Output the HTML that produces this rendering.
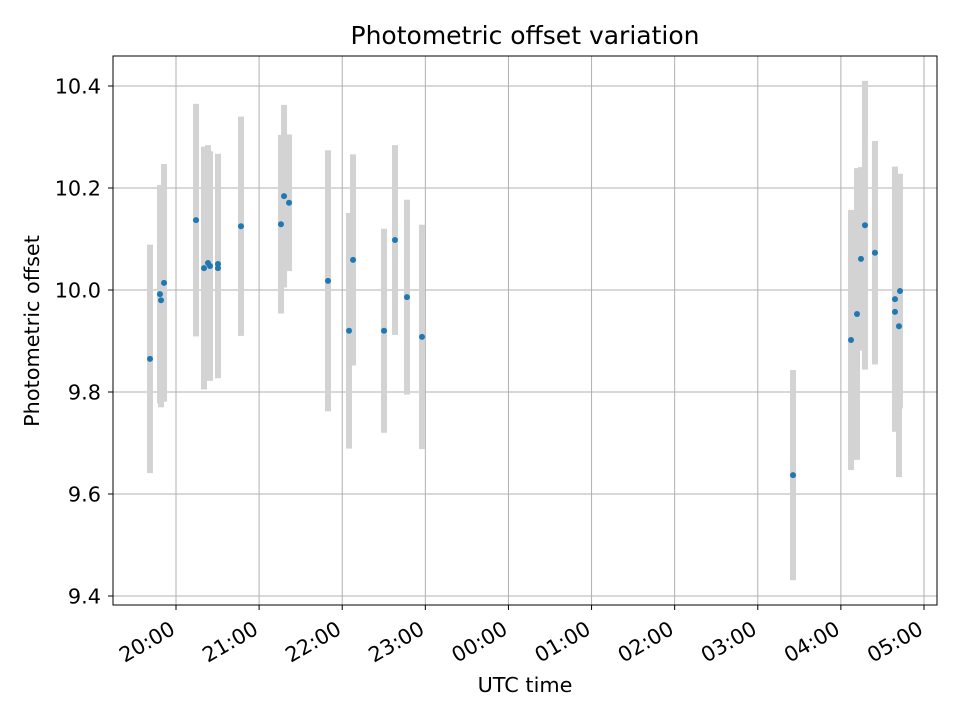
<!DOCTYPE html>
<html><head><meta charset="utf-8"><style>
body{margin:0;background:#fff;width:960px;height:720px;overflow:hidden}
svg text{font-family:"DejaVu Sans","Liberation Sans",sans-serif;fill:#000}
</style></head><body>
<svg id="chart" width="960" height="720" xmlns="http://www.w3.org/2000/svg"></svg>
<script>
// time in hours since 00:00 of first day (values >24 are next day)
const times=[19.687,19.807,19.82,19.856,20.241,20.337,20.385,20.409,20.505,20.505,20.782,21.263,21.3,21.36,21.829,22.082,22.13,22.503,22.635,22.779,22.96,27.424,28.122,28.194,28.242,28.29,28.41,28.651,28.651,28.699,28.711];
const offsets=[9.865,9.992,9.980,10.014,10.137,10.043,10.053,10.047,10.051,10.043,10.125,10.129,10.184,10.171,10.018,9.920,10.059,9.920,10.098,9.986,9.908,9.637,9.902,9.953,10.061,10.127,10.073,9.982,9.957,9.929,9.998];
const errors=[0.224,0.214,0.21,0.233,0.228,0.238,0.231,0.225,0.216,0.216,0.215,0.175,0.179,0.134,0.256,0.231,0.207,0.2,0.186,0.191,0.22,0.206,0.255,0.286,0.18,0.283,0.219,0.26,0.2,0.296,0.23];
const xTicks=[20,21,22,23,24,25,26,27,28,29];
const xTickLabels=["20:00","21:00","22:00","23:00","00:00","01:00","02:00","03:00","04:00","05:00"];
const yTicks=[9.4,9.6,9.8,10.0,10.2,10.4];
const yTickLabels=["9.4","9.6","9.8","10.0","10.2","10.4"];

const L=113,R=937,T=56,B=605;
const xs=h=>176+(h-20)*83.11;
const ys=v=>86+(10.4-v)*510;
const svg=document.getElementById('chart');
const NS='http://www.w3.org/2000/svg';
function mk(tag,attrs,parent){const e=document.createElementNS(NS,tag);for(const k in attrs)e.setAttribute(k,attrs[k]);(parent||svg).appendChild(e);return e;}

const grid=mk('g',{});


xTicks.forEach(t=>{mk('line',{x1:xs(t),x2:xs(t),y1:T,y2:B,stroke:'#b0b0b0','stroke-width':1},grid);});
yTicks.forEach(t=>{mk('line',{x1:L,x2:R,y1:ys(t),y2:ys(t),stroke:'#b0b0b0','stroke-width':1},grid);});

const ebs=mk('g',{});


times.forEach((t,i)=>{
  const r=mk('rect',{x:xs(t)-3,y:ys(offsets[i]+errors[i]),width:6,height:ys(offsets[i]-errors[i])-ys(offsets[i]+errors[i]),fill:'#d3d3d3'},ebs);
  
  
});
const pts=mk('g',{});


times.forEach((t,i)=>{
  const c=mk('circle',{cx:xs(t),cy:ys(offsets[i]),r:3,fill:'#1f77b4'},pts);
  
  
});

const frame=mk('rect',{x:L,y:T,width:R-L,height:B-T,fill:'none',stroke:'#000','stroke-width':1});



const xa=mk('g',{});


xTicks.forEach((t,i)=>{
  const x=xs(t);
  mk('line',{x1:x,x2:x,y1:B,y2:B+5,stroke:'#000'},xa);
  const ax=x-3, ay=B+22;
  const tx=mk('text',{x:ax,y:ay,'font-size':20.8,'text-anchor':'end','dominant-baseline':'central',transform:`rotate(-30 ${ax} ${ay})`},xa);
  tx.textContent=xTickLabels[i];
  
  
});
const ya=mk('g',{});


yTicks.forEach((t,i)=>{
  const y=ys(t);
  mk('line',{x1:L-5,x2:L,y1:y,y2:y,stroke:'#000'},ya);
  const tx=mk('text',{x:L-12,y:y+7.5,'font-size':20.8,'text-anchor':'end'},ya);
  tx.textContent=yTickLabels[i];
  
  
});
const title=mk('text',{x:525,y:44,'font-size':25,'text-anchor':'middle'});
title.textContent='Photometric offset variation';


const xt=mk('text',{x:525,y:692,'font-size':20.8,'text-anchor':'middle'});
xt.textContent='UTC time';


const yt=mk('text',{x:39,y:331,'font-size':20.8,'text-anchor':'middle',transform:'rotate(-90 39 331)'});
yt.textContent='Photometric offset';


</script>
</body></html>
